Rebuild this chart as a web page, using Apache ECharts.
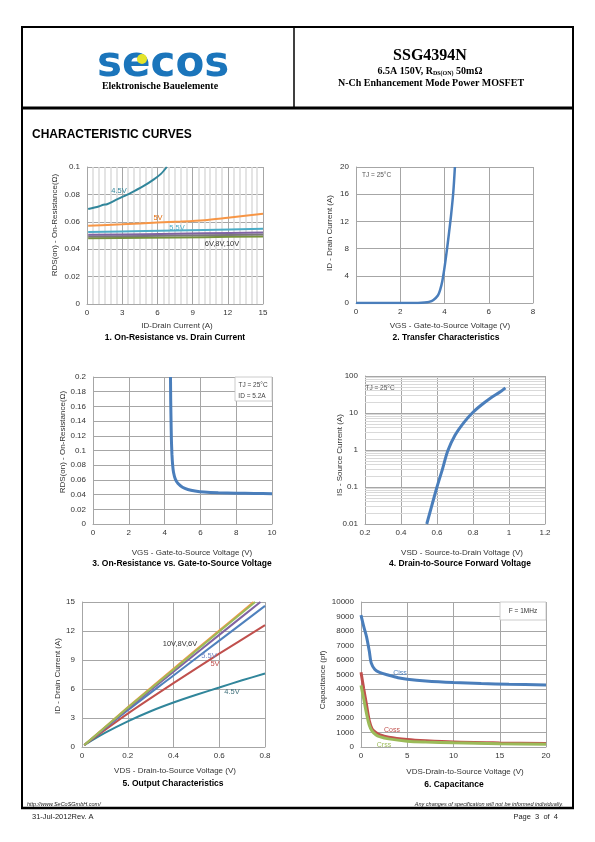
<!DOCTYPE html>
<html><head><meta charset="utf-8">
<script src="https://cdn.jsdelivr.net/npm/echarts@6/dist/echarts.min.js"></script>
<style>html,body{margin:0;padding:0;background:#fff}#c{width:595px;height:842px}</style>
</head><body><div id="c"></div>
<script>
// ---------- DATA ----------
// 1. On-Resistance vs Drain Current  [ID (A), RDS(on) (ohm)]
const c1_45V = [[0.1,0.0693],[1.0,0.0712],[1.4,0.0724],[1.7,0.0728],[2.6,0.0766],[3.7,0.081],[4.8,0.086],[5.7,0.091],[6.3,0.095],[6.8,0.1]];
const c1_5V  = [[0.1,0.0572],[3,0.0582],[6,0.0595],[8,0.0602],[10,0.0612],[12,0.063],[15,0.0658]];
const c1_55V = [[0.1,0.0525],[5,0.0532],[10,0.054],[15,0.0549]];
const c1_6V  = [[0.1,0.0505],[5,0.051],[10,0.0516],[15,0.0522]];
const c1_8V  = [[0.1,0.0492],[5,0.0497],[10,0.0502],[15,0.0507]];
const c1_10V = [[0.1,0.048],[5,0.0484],[10,0.0488],[15,0.0493]];
// 2. Transfer characteristics [VGS (V), ID (A)]
const c2_ID = [[0,0],[1,0],[2,0],[2.8,0.01],[3.1,0.06],[3.3,0.16],[3.5,0.45],[3.7,1.1],[3.8,1.9],[3.9,3.2],[4.0,5.2],[4.1,7.6],[4.2,10.2],[4.3,13.0],[4.4,16.4],[4.47,20]];
// 3. RDS(on) vs VGS [VGS (V), RDS (ohm)]
const c3_RDS = [[4.33,0.2],[4.34,0.17],[4.36,0.14],[4.38,0.115],[4.41,0.095],[4.45,0.08],[4.5,0.07],[4.6,0.061],[4.75,0.055],[5.0,0.05],[5.3,0.047],[5.7,0.045],[6.2,0.0435],[7,0.0425],[8,0.042],[9,0.0415],[10,0.0412]];
// 4. Forward voltage [VSD (V), IS (A)]
const c4_IS = [[0.543,0.01],[0.57,0.03],[0.6,0.1],[0.63,0.3],[0.66,0.95],[0.7,2.5],[0.75,5.6],[0.8,10.5],[0.85,17],[0.9,26],[0.95,37],[0.98,48]];
// 5. Output characteristics [VDS (V), ID (A)]
const c5_45V = [[0.01,0.2],[0.1,1.45],[0.2,2.65],[0.3,3.7],[0.4,4.6],[0.5,5.4],[0.6,6.15],[0.7,6.9],[0.8,7.6]];
const c5_5V  = [[0.01,0.2],[0.2,3.45],[0.4,6.6],[0.6,9.65],[0.8,12.6]];
const c5_55V = [[0.01,0.2],[0.2,3.8],[0.4,7.4],[0.6,11.0],[0.8,14.6]];
const c5_6V  = [[0.01,0.2],[0.2,3.95],[0.4,7.8],[0.6,11.6],[0.78,15]];
const c5_8V  = [[0.01,0.2],[0.2,4.05],[0.4,8.0],[0.6,11.95],[0.757,15]];
const c5_10V = [[0.01,0.2],[0.2,4.1],[0.4,8.1],[0.6,12.05],[0.75,15]];
// 6. Capacitance [VDS (V), C (pF)]
const c6_Ciss = [[0,9100],[0.3,8300],[0.6,7600],[0.9,6600],[1.1,5800],[1.5,5350],[2,5150],[3,4950],[4,4780],[5,4680],[7,4560],[10,4450],[13,4380],[16,4330],[20,4280]];
const c6_Coss = [[0,5150],[0.3,4000],[0.6,2900],[0.9,1800],[1.2,1250],[1.6,1000],[2,850],[3,680],[5,520],[7,430],[10,340],[15,280],[20,240]];
const c6_Crss = [[0,4250],[0.3,3300],[0.6,2300],[0.9,1500],[1.2,1100],[1.6,850],[2,720],[3,560],[5,400],[7,340],[10,290],[15,230],[20,190]];
// log minor grid values for chart 4
const c4_decades = [0.01,0.1,1,10];
const c4_minor = [];
c4_decades.forEach(d => { for (let k = 2; k <= 9; k++) c4_minor.push(+(d*k).toPrecision(3)); });

// ---------- STYLE ----------
const SANS = '"Liberation Sans", Arial, sans-serif';
const SERIF = '"Liberation Serif", "Times New Roman", serif';
const GRID_C = '#a6a6a6';
const LBL_C = '#333333';

const grids = [
  {left:87, top:167, width:176, height:137},
  {left:356, top:167, width:177, height:136},
  {left:93, top:377, width:179, height:147},
  {left:365, top:376, width:180, height:148},
  {left:82, top:602, width:183, height:145},
  {left:361, top:602, width:185, height:145}
].map(g => Object.assign({outerBoundsMode:'none', containLabel:false}, g));

function ax(i, min, max, interval, isX, extra) {
  return Object.assign({
    type:'value', gridIndex:i, min, max, interval,
    axisLine:{show:true, lineStyle:{color:GRID_C, width:1}},
    axisTick:{show:false},
    axisLabel:{fontSize:8, color:LBL_C, fontFamily:SANS, margin: isX ? 5 : 7, formatter: v => String(+v.toFixed(6))},
    splitLine:{show:true, lineStyle:{color:GRID_C, width:1}}
  }, extra || {});
}

const xAxes = [
  ax(0, 0, 15, 3, true, {minorTick:{show:false, splitNumber:6}, minorSplitLine:{show:true, lineStyle:{color:'#dcdcdc', width:1.5}}}),
  ax(1, 0, 8, 2, true),
  ax(2, 0, 10, 2, true),
  ax(3, 0.2, 1.2, 0.2, true),
  ax(4, 0, 0.8, 0.2, true),
  ax(5, 0, 20, 5, true)
];
const yAxes = [
  ax(0, 0, 0.1, 0.02, false),
  ax(1, 0, 20, 4, false),
  ax(2, 0, 0.2, 0.02, false),
  Object.assign(ax(3, 0.01, 100, null, false), {type:'log', logBase:10, interval:undefined}),
  ax(4, 0, 15, 3, false),
  ax(5, 0, 10000, 1000, false)
];

function ln(i, data, color, width, z, smooth) {
  return {type:'line', xAxisIndex:i, yAxisIndex:i, data, showSymbol:false, symbol:'none',
    smooth: smooth === undefined ? 0.3 : smooth, z: z || 3,
    lineStyle:{color, width: width || 2.5}, itemStyle:{color}, silent:true, animation:false};
}

// invisible helper series that only carries the log minor grid lines of chart 4
const c4_gridSeries = {
  type:'line', xAxisIndex:3, yAxisIndex:3, data:c4_IS, showSymbol:false, symbol:'none', z:1, silent:true,
  lineStyle:{opacity:0}, animation:false,
  markLine:{silent:true, z:1, symbol:['none','none'], label:{show:false}, animation:false,
    lineStyle:{color:'#d9d9d9', width:1, type:'solid'}, emphasis:{disabled:true},
    data: c4_minor.map(v => ({yAxis:v}))}
};

const series = [
  ln(0, c1_10V, '#77933c', 2, 3), ln(0, c1_8V, '#7a7a7a', 2, 3), ln(0, c1_6V, '#8064a2', 2, 3),
  ln(0, c1_55V, '#4bacc6', 2, 3), ln(0, c1_5V, '#f79646', 2, 3), ln(0, c1_45V, '#31869b', 2, 3),
  ln(1, c2_ID, '#4a7ebb', 2.5),
  ln(2, c3_RDS, '#4a7ebb', 3, 3, 0.2),
  c4_gridSeries,
  ln(3, c4_IS, '#4a7ebb', 3, 6),
  ln(4, c5_45V, '#31869b', 2), ln(4, c5_5V, '#c0504d', 2), ln(4, c5_55V, '#4f81bd', 2),
  ln(4, c5_6V, '#8064a2', 2), ln(4, c5_10V, '#f79646', 2), ln(4, c5_8V, '#9bbb59', 2),
  ln(5, c6_Ciss, '#4a7ebb', 3), ln(5, c6_Coss, '#c0504d', 3), ln(5, c6_Crss, '#9bbb59', 3)
];

// ---------- GRAPHICS (page furniture, titles) ----------
function T(x, y, s, o) {
  return {type:'text', x, y, z:100, silent:true, style:Object.assign({text:s, fill:'#000', fontSize:8, fontFamily:SANS, align:'center', verticalAlign:'middle'}, o || {})};
}
function L(x1, y1, x2, y2, w, c) {
  return {type:'line', z:100, silent:true, shape:{x1, y1, x2, y2}, style:{stroke:c || '#000', lineWidth:w}};
}
function R(x, y, w, h) {
  return {type:'rect', z:90, silent:true, shape:{x, y, width:w, height:h}, style:{fill:'#fff', stroke:'#bfbfbf', lineWidth:0.8}};
}
const axTitle = {fontSize:8, fill:LBL_C};
const capt = {fontSize:8.5, fontWeight:'bold', fill:'#000'};
const graphics = [
  // frame
  L(22, 27, 573, 27, 2), L(22, 26, 22, 809, 2), L(573, 26, 573, 809, 2),
  L(22, 108, 573, 108, 3), L(294, 27, 294, 108, 1.5), L(21, 808, 574, 808, 2.5),
  // logo
  T(97, 65, 'secos', {align:'left', fontSize:42, fontWeight:'bold', fontFamily:'"DejaVu Sans"', fill:'#1b75bb'}),
  {type:'circle', z:101, silent:true, shape:{cx:142, cy:59, r:5}, style:{fill:'#e4e42a'}},
  T(160, 86, 'Elektronische Bauelemente', {fontSize:10, fontWeight:'bold', fontFamily:SERIF}),
  T(430, 56, 'SSG4394N', {fontSize:16, fontWeight:'bold', fontFamily:SERIF}),
  T(430, 71, '{a|6.5A 150V, R}{b|DS(ON)}{a| 50mΩ}', {fontFamily:SERIF, rich:{
     a:{fontSize:10, fontWeight:'bold', fontFamily:SERIF}, b:{fontSize:6, fontWeight:'bold', fontFamily:SERIF, padding:[5,0,0,0]}}}),
  T(431, 83, 'N-Ch Enhancement Mode Power MOSFET', {fontSize:10, fontWeight:'bold', fontFamily:SERIF}),
  T(32, 135, 'CHARACTERISTIC CURVES', {align:'left', fontSize:12, fontWeight:'bold'}),
  // footer
  T(27, 804, 'http://www.SeCoSGmbH.com/', {align:'left', fontSize:5.5, fontStyle:'italic', fill:'#222'}),
  T(563, 804, 'Any changes of specification will not be informed individually.', {align:'right', fontSize:5.5, fontStyle:'italic', fill:'#222'}),
  T(32, 817, '31-Jul-2012Rev. A', {align:'left', fontSize:7.5, fill:'#222'}),
  T(558, 817, 'Page  3  of  4', {align:'right', fontSize:7.5, fill:'#222'}),
  // chart 1
  T(177, 326, 'ID-Drain Current (A)', axTitle),
  T(175, 338, '1. On-Resistance vs. Drain Current', capt),
  Object.assign(T(55, 225, 'RDS(on) - On-Resistance(Ω)', axTitle), {rotation:Math.PI/2}),
  T(119, 191, '4.5V', {fontSize:7.5, fill:'#31869b'}),
  T(158, 218, '5V', {fontSize:7.5, fill:'#e46c0a'}),
  T(177, 228, '5.5V', {fontSize:7.5, fill:'#4bacc6'}),
  T(222, 244, '6V,8V,10V', {fontSize:7.5, fill:'#333'}),
  // chart 2
  T(450, 326, 'VGS - Gate-to-Source Voltage (V)', axTitle),
  T(446, 338, '2. Transfer Characteristics', capt),
  Object.assign(T(330, 233, 'ID - Drain Current (A)', axTitle), {rotation:Math.PI/2}),
  T(362, 175, 'TJ = 25°C', {align:'left', fontSize:6.5, fill:'#555'}),
  // chart 3
  T(192, 553, 'VGS - Gate-to-Source Voltage (V)', axTitle),
  T(182, 564, '3. On-Resistance vs. Gate-to-Source Voltage', capt),
  Object.assign(T(63, 442, 'RDS(on) - On-Resistance(Ω)', axTitle), {rotation:Math.PI/2}),
  R(235, 377, 37, 24),
  T(253, 385, 'TJ = 25°C', {fontSize:6.5, fill:'#444'}),
  T(252, 396, 'ID = 5.2A', {fontSize:6.5, fill:'#444'}),
  // chart 4
  T(462, 553, 'VSD - Source-to-Drain Voltage (V)', axTitle),
  T(460, 564, '4. Drain-to-Source Forward Voltage', capt),
  Object.assign(T(340, 455, 'IS - Source Current (A)', axTitle), {rotation:Math.PI/2}),
  T(380, 388, 'TJ = 25°C', {fontSize:6.5, fill:'#555'}),
  // chart 5
  T(175, 771, 'VDS - Drain-to-Source Voltage (V)', axTitle),
  T(173, 784, '5. Output Characteristics', capt),
  Object.assign(T(58, 676, 'ID - Drain Current (A)', axTitle), {rotation:Math.PI/2}),
  T(180, 644, '10V,8V,6V', {fontSize:7.5, fill:'#333'}),
  T(209, 656, '5.5V', {fontSize:7.5, fill:'#6f86c4'}),
  T(215, 664, '5V', {fontSize:7.5, fill:'#c0504d'}),
  T(232, 692, '4.5V', {fontSize:7.5, fill:'#3e6f7a'}),
  // chart 6
  T(465, 772, 'VDS-Drain-to-Source Voltage (V)', axTitle),
  T(454, 785, '6. Capacitance', capt),
  Object.assign(T(323, 680, 'Capacitance (pf)', axTitle), {rotation:Math.PI/2}),
  R(500, 602, 46, 18),
  T(523, 611, 'F = 1MHz', {fontSize:6.5, fill:'#333'}),
  T(400, 673, 'Ciss', {fontSize:7, fill:'#4a7ebb'}),
  T(392, 730, 'Coss', {fontSize:7, fill:'#c0504d'}),
  T(384, 745, 'Crss', {fontSize:7, fill:'#9bbb59'})
];

const chart = echarts.init(document.getElementById('c'), null, {renderer:'canvas', width:595, height:842});
chart.setOption({
  backgroundColor:'#fff', animation:false,
  grid: grids, xAxis: xAxes, yAxis: yAxes, series, graphic: graphics
});
</script>
</body></html>
